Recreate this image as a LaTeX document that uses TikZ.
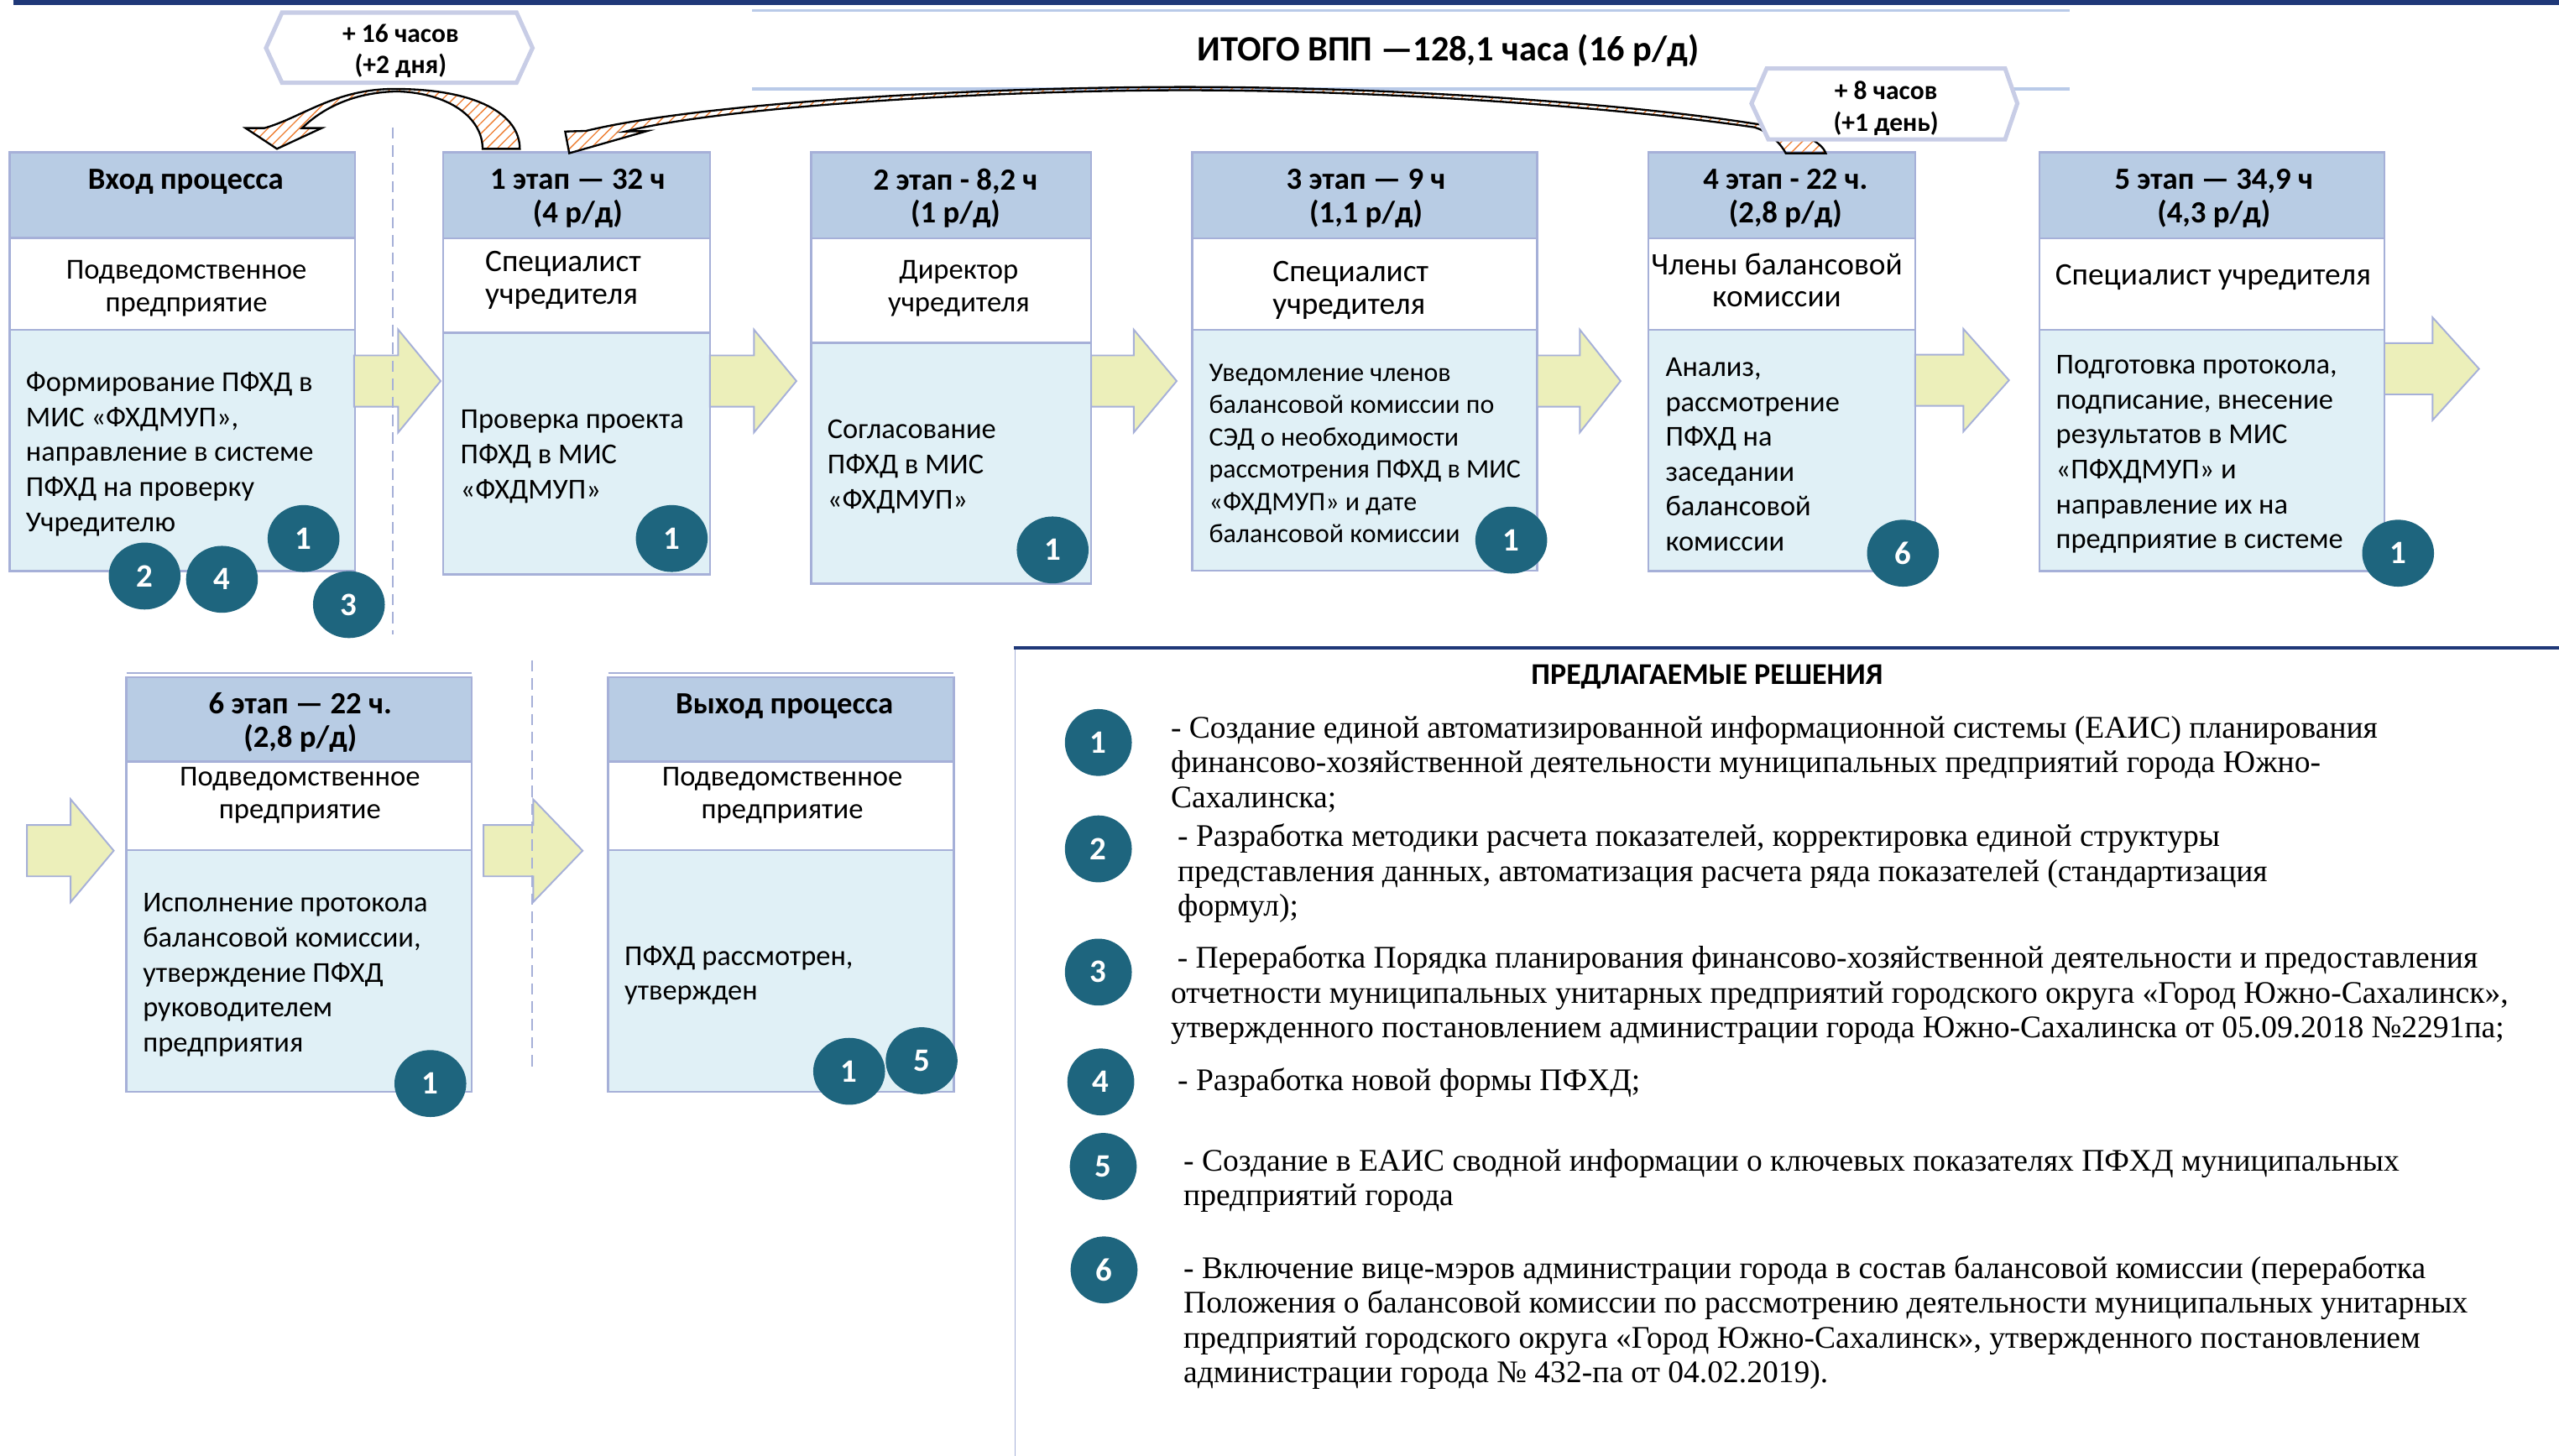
\documentclass[tikz,border=0pt]{standalone}
\usepackage{fontspec}
\setmainfont{Carlito}
\newfontfamily\legfont{Liberation Serif}
\usetikzlibrary{patterns.meta}
\definecolor{hdrblue}{RGB}{184,204,228}
\definecolor{bodycyan}{RGB}{224,240,246}
\definecolor{frameblue}{RGB}{166,176,216}
\definecolor{arrowyel}{RGB}{236,239,186}
\definecolor{numteal}{RGB}{30,101,126}
\definecolor{hatchorange}{RGB}{237,125,49}
\definecolor{navy}{RGB}{31,56,120}
\definecolor{lineblue}{RGB}{185,202,232}
\definecolor{hexgray}{RGB}{200,205,230}
% yellow block arrow: x start, x head base, x tip, y centre
\newcommand{\yarrow}[4]{\draw[yarrow] (#1,#4-15.7) -- (#2,#4-15.7) -- (#2,#4-31.5) -- (#3,#4) -- (#2,#4+31.5) -- (#2,#4+15.7) -- (#1,#4+15.7) -- cycle;}
% stage box: x left, x right, top, header bottom, middle bottom, bottom
\newcommand{\stagebox}[6]{%
\draw[hdrbox] (#1,#3) rectangle (#2,#4);
\draw[midbox] (#1,#4) rectangle (#2,#5);
\draw[bodybox] (#1,#5) rectangle (#2,#6);}
\begin{document}
\begin{tikzpicture}[x=1pt,y=-1pt,
  hdrbox/.style={fill=hdrblue,draw=frameblue,line width=1.3},
  midbox/.style={fill=white,draw=frameblue,line width=1.3},
  bodybox/.style={fill=bodycyan,draw=frameblue,line width=1.3},
  yarrow/.style={fill=arrowyel,draw=frameblue,line width=1},
  hatch/.style={draw=black,line width=1.2,pattern={Lines[angle=45,distance=4.5pt,line width=0.7pt]},pattern color=hatchorange},
  hexbox/.style={fill=white,draw=hexgray,line width=2.6},
  sepline/.style={draw=frameblue,line width=1,dash pattern=on 7pt off 4pt},
  hdrtxt/.style={align=center,inner sep=0,font=\bfseries\fontsize{18.9}{20.4}\selectfont},
  midtxt/.style={align=center,inner sep=0,font=\fontsize{17.8}{20}\selectfont},
  rolesize/.style={font=\fontsize{19.2}{20}\selectfont},
  bodytxt/.style={align=left,inner sep=0,anchor=west,font=\fontsize{17.7}{21.4}\selectfont},
  hextxt/.style={align=center,inner sep=0,font=\bfseries\fontsize{16.2}{19.4}\selectfont},
  numtxt/.style={text=white,inner sep=0,font=\bfseries\fontsize{20}{20}\selectfont},
  legtxt/.style={align=left,inner sep=0,anchor=west,font=\legfont\fontsize{19.3}{21.3}\selectfont}]
\useasboundingbox (0,0) rectangle (1568,892);
% top rules and total
\draw[navy,line width=3] (8,1.5) -- (1568,1.5);
\draw[lineblue,line width=2] (461,6.4) -- (1268,6.4);
\draw[lineblue,line width=2] (461,54.5) -- (1268,54.5);
\node[inner sep=0,anchor=west,font=\bfseries\fontsize{21.8}{24}\selectfont] (total) at (733.5,30.7) {ИТОГО ВПП —128,1 часа (16 р/д)};
\draw[hexbox] (172.8,7.7) -- (316.5,7.7) -- (326.3,29.4) -- (316.5,50.7) -- (172.8,50.7) -- (163,29.4) -- cycle;
\node[hextxt] (d16) at (245.5,31.3) {+ 16 часов\\(+2 дня)};
% stage boxes
\stagebox{6}{217.5}{93.4}{145.8}{202}{350}
\stagebox{271.5}{435}{93.4}{146}{204}{352}
\stagebox{497}{668.6}{93.4}{146}{210}{357.7}
\stagebox{730.6}{942}{93.4}{146}{202}{349.7}
\stagebox{1010}{1173.5}{93.4}{146}{202}{350}
\stagebox{1249.7}{1461}{93.4}{146}{202}{350}
\stagebox{77.5}{289}{415}{466.6}{521}{669}
\stagebox{372.7}{584.4}{415}{466.6}{521}{669}
\draw[frameblue,line width=1] (77.5,412.4) -- (289,412.4);
\draw[frameblue,line width=1] (372.7,412.4) -- (584.4,412.4);
% block arrows
\yarrow{217}{244}{270}{233.5}
\yarrow{435}{462}{488}{233.5}
\yarrow{668.6}{694.7}{721}{233.5}
\yarrow{942}{968}{993}{233.5}
\yarrow{1173.5}{1203}{1231}{233}
\yarrow{1461}{1490.5}{1519}{226}
\yarrow{16.5}{43.3}{69.7}{521.3}
\yarrow{296.3}{326.7}{357}{521.3}
\draw[sepline] (240.5,78) -- (240.5,389);
\draw[sepline] (326,404.5) -- (326,653.6);
% hatched return arrows
\draw[hatch] (318.5,91.2) .. controls (318.5,70) and (292,54.5) .. (241.7,54.5) .. controls (205,54.5) and (185,72) .. (162,78.5) -- (150.5,78.5) -- (169.7,91.2) -- (197.1,78.5) -- (185.1,78.5) .. controls (200,64) and (220,56.5) .. (243.4,56) .. controls (275,57) and (295.7,72) .. (295.7,91.2) -- cycle;
\draw[hatch] (1118.7,93.9) .. controls (1116,86) and (1100,79) .. (1075,75.8) .. controls (1000,64) and (860,53.3) .. (726,53.3) .. controls (600,53.3) and (430,63) .. (359.1,80.2) -- (346.3,80.6) -- (348.8,93.9) -- (396.8,80.2) -- (383.1,80.6) .. controls (440,66) and (600,55.3) .. (726,55.3) .. controls (860,55.3) and (1000,67) .. (1075,78) .. controls (1082,80) and (1090,86) .. (1094.2,93.9) -- cycle;
\draw[hexbox] (1082.5,42) -- (1228.6,42) -- (1236.1,63.4) -- (1228.6,85.4) -- (1083.5,85.4) -- (1073.2,63.4) -- cycle;
\node[hextxt] (d8) at (1155.6,66.4) {+ 8 часов\\(+1 день)};
% box texts
\node[hdrtxt] (h0) at (113.8,111.3) {Вход процесса};
\node[hdrtxt] (h1) at (354,121.5) {1 этап — 32 ч\\(4 р/д)};
\node[hdrtxt] (h2) at (585.5,121.5) {2 этап - 8,2 ч\\(1 р/д)};
\node[hdrtxt] (h3) at (837,121.5) {3 этап — 9 ч\\(1,1 р/д)};
\node[hdrtxt] (h4) at (1094,121.5) {4 этап - 22 ч.\\(2,8 р/д)};
\node[hdrtxt] (h5) at (1356.5,121.5) {5 этап — 34,9 ч\\(4,3 р/д)};
\node[hdrtxt] (h6) at (184,442.7) {6 этап — 22 ч.\\(2,8 р/д)};
\node[hdrtxt] (h7) at (480.7,432.7) {Выход процесса};
\node[midtxt] (m0) at (114.2,176.8) {Подведомственное\\предприятие};
\node[midtxt,rolesize,align=left,anchor=west] (m1) at (297.1,171.7) {Специалист\\учредителя};
\node[midtxt] (m2) at (587.5,176.8) {Директор\\учредителя};
\node[midtxt,rolesize,align=left,anchor=west] (m3) at (779.6,178) {Специалист\\учредителя};
\node[midtxt,rolesize] (m4) at (1088.7,171.7) {Члены балансовой\\комиссии};
\node[midtxt,rolesize] (m5) at (1356,170.1) {Специалист учредителя};
\node[midtxt] (m6) at (183.8,487.5) {Подведомственное\\предприятие};
\node[midtxt] (m7) at (479.3,487.5) {Подведомственное\\предприятие};
\node[bodytxt] (b0) at (15.7,278.3) {Формирование ПФХД в\\МИС «ФХДМУП»,\\направление в системе\\ПФХД на проверку\\Учредителю};
\node[bodytxt] (b1) at (282,279.8) {Проверка проекта\\ПФХД в МИС\\«ФХДМУП»};
\node[bodytxt] (b2) at (506.8,285.9) {Согласование\\ПФХД в МИС\\«ФХДМУП»};
\node[bodytxt,font=\fontsize{16.4}{19.8}\selectfont] (b3) at (740.7,278) {Уведомление членов\\балансовой комиссии по\\СЭД о необходимости\\рассмотрения ПФХД в МИС\\«ФХДМУП» и дате\\балансовой комиссии};
\node[bodytxt] (b4) at (1020.4,278.5) {Анализ,\\рассмотрение\\ПФХД на\\заседании\\балансовой\\комиссии};
\node[bodytxt] (b5) at (1259.6,278.5) {Подготовка протокола,\\подписание, внесение\\результатов в МИС\\«ПФХДМУП» и\\направление их на\\предприятие в системе};
\node[bodytxt] (b6) at (87.4,597.5) {Исполнение протокола\\балансовой комиссии,\\утверждение ПФХД\\руководителем\\предприятия};
\node[bodytxt] (b7) at (382.5,597.8) {ПФХД рассмотрен,\\утвержден};
% solution marks on the boxes
\fill[numteal] (88.6,353) ellipse (22 and 20.5) node[numtxt] (n0b) {2};
\fill[numteal] (136,355) ellipse (22 and 20.5) node[numtxt] (n0d) {4};
\fill[numteal] (186,330) ellipse (22 and 20.5) node[numtxt] (n0a) {1};
\fill[numteal] (213.8,370.5) ellipse (22 and 20.5) node[numtxt] (n0c) {3};
\fill[numteal] (411.6,330) ellipse (22 and 20.5) node[numtxt] (n1) {1};
\fill[numteal] (645,337) ellipse (22 and 20.5) node[numtxt] (n2) {1};
\fill[numteal] (926,331) ellipse (22 and 20.5) node[numtxt] (n3) {1};
\fill[numteal] (1166,339) ellipse (22 and 20.5) node[numtxt] (n4) {6};
\fill[numteal] (1469.4,339) ellipse (22 and 20.5) node[numtxt] (n5) {1};
\fill[numteal] (263.7,664) ellipse (22 and 20.5) node[numtxt] (n6) {1};
\fill[numteal] (564.7,650) ellipse (22 and 20.5) node[numtxt] (n7b) {5};
\fill[numteal] (520.3,656.5) ellipse (22 and 20.5) node[numtxt] (n7a) {1};
% proposed solutions
\draw[frameblue,line width=0.8] (622,397) -- (622,892);
\draw[navy,line width=2] (621,397) -- (1568,397);
\node[inner sep=0,font=\bfseries\fontsize{18.5}{20}\selectfont] (solhead) at (1046,414.8) {ПРЕДЛАГАЕМЫЕ РЕШЕНИЯ};
\fill[numteal] (673,455) circle (20.5) node[numtxt] (s1) {1};
\fill[numteal] (673,520.2) circle (20.5) node[numtxt] (s2) {2};
\fill[numteal] (673,595.7) circle (20.5) node[numtxt] (s3) {3};
\fill[numteal] (674.5,663) circle (20.5) node[numtxt] (s4) {4};
\fill[numteal] (676,714.8) circle (20.5) node[numtxt] (s5) {5};
\fill[numteal] (676.5,778.2) circle (20.5) node[numtxt] (s6) {6};
\node[legtxt] (l1) at (717.2,468.3) {- Создание единой автоматизированной информационной системы (ЕАИС) планирования\\финансово-хозяйственной деятельности муниципальных предприятий города Южно-\\Сахалинска;};
\node[legtxt] (l2) at (721.4,535.3) {- Разработка методики расчета показателей, корректировка единой структуры\\представления данных, автоматизация расчета ряда показателей (стандартизация\\формул);};
\node[legtxt] (l3) at (717.2,609.9) {\hspace*{4pt}- Переработка Порядка планирования финансово-хозяйственной деятельности и предоставления\\отчетности муниципальных унитарных предприятий городского округа «Город Южно-Сахалинск»,\\утвержденного постановлением администрации города Южно-Сахалинска от 05.09.2018 №2291па;};
\node[legtxt] (l4) at (721.4,663.4) {- Разработка новой формы ПФХД;};
\node[legtxt] (l5) at (725,723.4) {- Создание в ЕАИС сводной информации о ключевых показателях ПФХД муниципальных\\предприятий города};
\node[legtxt] (l6) at (725,810.6) {- Включение вице-мэров администрации города в состав балансовой комиссии (переработка\\Положения о балансовой комиссии по рассмотрению деятельности муниципальных унитарных\\предприятий городского округа «Город Южно-Сахалинск», утвержденного постановлением\\администрации города № 432-па от 04.02.2019).};
\end{tikzpicture}
\end{document}
